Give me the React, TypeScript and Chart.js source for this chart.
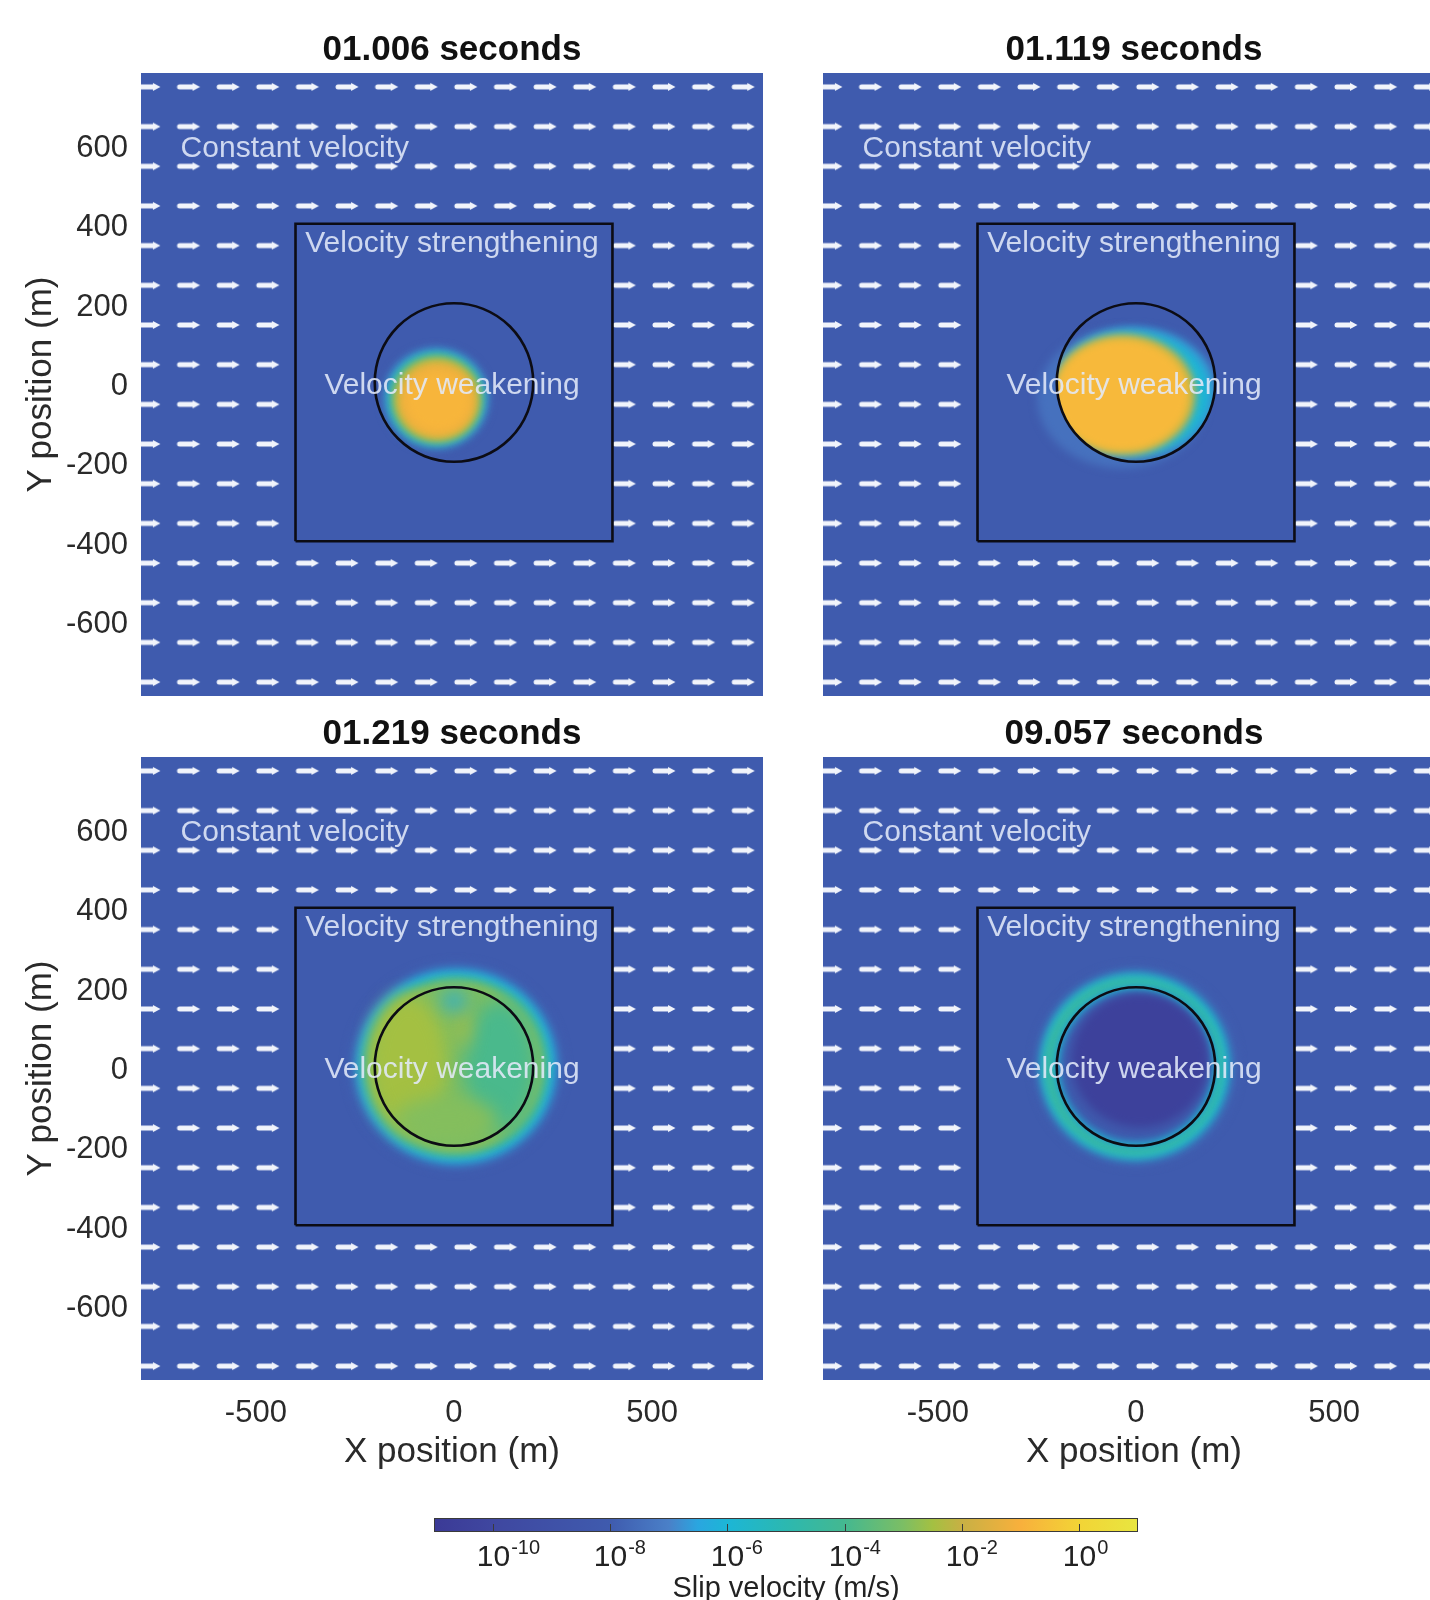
import React, { useEffect, useRef } from 'react';
import { Chart, registerables } from 'chart.js';

Chart.register(...registerables);

// ---------------- data ----------------
const panelTitles = ['01.006 seconds', '01.119 seconds', '01.219 seconds', '09.057 seconds'];
const xTickValues = [-500, 0, 500];
const yTickValues = [600, 400, 200, 0, -200, -400, -600];
const axisMin = -790;
const axisMax = 780;
const xAxisTitle = 'X position (m)';
const yAxisTitle = 'Y position (m)';

// quiver arrows (constant velocity region)
const arrowColumns = [-770, -670, -570, -470, -370, -270, -170, -70, 30, 130, 230, 330, 430, 530, 630, 730];
const arrowRows = [745, 645, 545, 445, 345, 245, 145, 45, -55, -155, -255, -355, -455, -555, -655, -755];

// frictional regions
const strengtheningHalfWidth = 400;
const weakeningRadius = 200;
const boxCorners = [
  { x: -400, y: -400 },
  { x: 400, y: -400 },
  { x: 400, y: 400 },
  { x: -400, y: 400 },
  { x: -400, y: -400 },
];

// region labels
const regionLabels = ['Constant velocity', 'Velocity strengthening', 'Velocity weakening'];
const regionLabelX = [-690, -5, -5];
const regionLabelY = [590, 350, -8];
const regionLabelAlign = ['left', 'center', 'center'];

// log10 slip velocity (m/s)
const backgroundLogV = -8;
const slipPanel1 = [
  { x: -45, y: -40, rx: 134, ry: 128, v: -7.2 },
  { x: -45, y: -40, rx: 125, ry: 120, v: -6.1 },
  { x: -44, y: -41, rx: 116, ry: 112, v: -4.2 },
  { x: -43, y: -42, rx: 109, ry: 105, v: -2.4 },
  { x: -42, y: -44, rx: 101, ry: 97, v: -1.2 },
  { x: -40, y: -48, rx: 80, ry: 75, v: -0.85 },
];
const slipPanel2 = [
  { x: -35, y: -40, rx: 214, ry: 176, v: -7.4, inside: false },
  { x: -5, y: -25, rx: 210, ry: 164, v: -6.8, inside: true },
  { x: -12, y: -27, rx: 200, ry: 158, v: -6.0, inside: true },
  { x: -30, y: -30, rx: 180, ry: 150, v: -2.2, inside: true },
  { x: -36, y: -32, rx: 172, ry: 144, v: -0.75, inside: true },
];
const slipPanel3 = [
  { x: 5, y: 0, rx: 272, ry: 262, v: -7.8 },
  { x: 5, y: 0, rx: 254, ry: 246, v: -6.3 },
  { x: 5, y: 0, rx: 236, ry: 230, v: -4.6 },
  { x: 5, y: 0, rx: 221, ry: 217, v: -2.9 },
  { x: 3, y: 0, rx: 206, ry: 204, v: -3.0 },
  { x: -115, y: 10, rx: 100, ry: 170, v: -2.5, soft: true },
  { x: 115, y: 0, rx: 90, ry: 165, v: -3.9, soft: true },
  { x: -20, y: -135, rx: 130, ry: 60, v: -2.9, soft: true },
  { x: 25, y: 95, rx: 14, ry: 50, v: -2.4, soft: true },
  { x: 0, y: 165, rx: 28, ry: 22, v: -6.3, soft: true },
];
const slipPanel4 = [
  { x: 0, y: 0, rx: 258, ry: 252, v: -7.8 },
  { x: -3, y: 0, rx: 240, ry: 236, v: -6.0 },
  { x: -5, y: 0, rx: 227, ry: 224, v: -4.3 },
  { x: 0, y: 0, rx: 208, ry: 206, v: -6.0 },
  { x: 0, y: 0, rx: 194, ry: 192, v: -8.3 },
  { x: 10, y: 15, rx: 172, ry: 168, v: -10.5 },
];
const slipPanels = [slipPanel1, slipPanel2, slipPanel3, slipPanel4];

// colour bar
const colorbarMin = -11;
const colorbarMax = 1;
const colorbarTicks = [-10, -8, -6, -4, -2, 0];
const colorbarTitle = 'Slip velocity (m/s)';
const cmapLevels = [-11, -10, -8, -7, -6.5, -6, -5, -4, -3, -2.5, -2, -1, 0, 1];
const cmapColors = ['#3b3a96', '#3f47a0', '#3f5bae', '#4a80c8', '#2aa6e0', '#1cb6d6', '#2cb8b0', '#44b890', '#7cbe64', '#a4c042', '#c8b044', '#f8b03c', '#f2d436', '#e8e640'];

// ---------------- helpers ----------------
const FONT = '"Liberation Sans", Arial, Helvetica, sans-serif';

function hexToRgb(h: string) {
  const n = parseInt(h.slice(1), 16);
  return [(n >> 16) & 255, (n >> 8) & 255, n & 255];
}

function slipColor(v: number) {
  const lv = Math.max(cmapLevels[0], Math.min(cmapLevels[cmapLevels.length - 1], v));
  let i = 0;
  while (i < cmapLevels.length - 2 && lv > cmapLevels[i + 1]) i++;
  const t = (lv - cmapLevels[i]) / (cmapLevels[i + 1] - cmapLevels[i]);
  const a = hexToRgb(cmapColors[i]);
  const b = hexToRgb(cmapColors[i + 1]);
  const c = a.map((av, k) => Math.round(av + (b[k] - av) * t));
  return `rgb(${c[0]},${c[1]},${c[2]})`;
}

function makeArrow() {
  const c = document.createElement('canvas');
  c.width = 28;
  c.height = 12;
  const g = c.getContext('2d')!;
  g.strokeStyle = '#f1f4fb';
  g.fillStyle = '#f1f4fb';
  g.lineWidth = 5;
  g.lineCap = 'round';
  g.beginPath();
  g.moveTo(5, 6);
  g.lineTo(19, 6);
  g.stroke();
  g.beginPath();
  g.moveTo(18, 2);
  g.lineTo(25.5, 6);
  g.lineTo(18, 10);
  g.closePath();
  g.fill();
  return c;
}

const arrowPoints: { x: number; y: number }[] = [];
arrowRows.forEach((yv) =>
  arrowColumns.forEach((xv) => {
    if (Math.abs(xv) > strengtheningHalfWidth || Math.abs(yv) > strengtheningHalfWidth) arrowPoints.push({ x: xv, y: yv });
  })
);

// layout (pixels)
const PANEL_W = 773;
const PANEL_H = 791;
const panelLeft = [0, 682, 0, 682];
const panelTop = [0, 0, 684, 684];

function panelPlugin(idx: number) {
  const isLeft = idx % 2 === 0;
  const isBottom = idx >= 2;
  return {
    id: 'panelArt' + idx,
    beforeDatasetsDraw(chart: any) {
      const { ctx, chartArea: a } = chart;
      const xs = chart.scales.x;
      const ys = chart.scales.y;
      ctx.save();
      ctx.beginPath();
      ctx.rect(a.left, a.top, a.right - a.left, a.bottom - a.top);
      ctx.clip();
      ctx.fillStyle = slipColor(backgroundLogV);
      ctx.fillRect(a.left, a.top, a.right - a.left, a.bottom - a.top);
      const cx0 = xs.getPixelForValue(0);
      const cy0 = ys.getPixelForValue(0);
      const rpx = xs.getPixelForValue(weakeningRadius) - cx0;
      for (const L of slipPanels[idx] as any[]) {
        ctx.save();
        ctx.filter = L.soft ? 'blur(9px)' : 'blur(4px)';
        if (L.inside) {
          ctx.beginPath();
          ctx.arc(cx0, cy0, rpx, 0, Math.PI * 2);
          ctx.clip();
        }
        const cx = xs.getPixelForValue(L.x);
        const cy = ys.getPixelForValue(L.y);
        const rx = Math.abs(xs.getPixelForValue(L.x + L.rx) - cx);
        const ry = Math.abs(ys.getPixelForValue(L.y + L.ry) - cy);
        ctx.fillStyle = slipColor(L.v);
        ctx.beginPath();
        ctx.ellipse(cx, cy, rx, ry, 0, 0, Math.PI * 2);
        ctx.fill();
        ctx.restore();
      }
      ctx.restore();
    },
    afterDatasetsDraw(chart: any) {
      const { ctx, chartArea: a } = chart;
      const xs = chart.scales.x;
      const ys = chart.scales.y;
      const cx0 = xs.getPixelForValue(0);
      const cy0 = ys.getPixelForValue(0);
      const rpx = xs.getPixelForValue(weakeningRadius) - cx0;
      ctx.save();
      ctx.beginPath();
      ctx.rect(a.left, a.top, a.right - a.left, a.bottom - a.top);
      ctx.clip();
      ctx.strokeStyle = '#0c0c14';
      ctx.lineWidth = 2.6;
      ctx.beginPath();
      ctx.arc(cx0, cy0, rpx, 0, Math.PI * 2);
      ctx.stroke();
      ctx.font = `30px ${FONT}`;
      ctx.fillStyle = 'rgba(226,233,249,0.88)';
      ctx.textBaseline = 'middle';
      regionLabels.forEach((t, k) => {
        ctx.textAlign = regionLabelAlign[k] as CanvasTextAlign;
        ctx.fillText(t, xs.getPixelForValue(regionLabelX[k]), ys.getPixelForValue(regionLabelY[k]));
      });
      ctx.restore();
    },
    afterDraw(chart: any) {
      const { ctx, chartArea: a } = chart;
      ctx.save();
      ctx.fillStyle = '#111';
      ctx.textAlign = 'center';
      ctx.textBaseline = 'middle';
      ctx.font = `bold 35px ${FONT}`;
      ctx.fillText(panelTitles[idx], (a.left + a.right) / 2, a.top - 23);
      ctx.fillStyle = '#2a2a2a';
      ctx.font = `35px ${FONT}`;
      if (isBottom) ctx.fillText(xAxisTitle, (a.left + a.right) / 2, a.bottom + 72);
      if (isLeft) {
        ctx.save();
        ctx.translate(41, (a.top + a.bottom) / 2);
        ctx.rotate(-Math.PI / 2);
        ctx.fillText(yAxisTitle, 0, 0);
        ctx.restore();
      }
      ctx.restore();
    },
  };
}

function panelConfig(idx: number, arrowImg: HTMLCanvasElement): any {
  const isLeft = idx % 2 === 0;
  const isBottom = idx >= 2;
  return {
    type: 'scatter',
    data: {
      datasets: [
        {
          data: boxCorners,
          showLine: true,
          borderColor: '#0c0c14',
          borderWidth: 2.6,
          pointRadius: 0,
          fill: false,
          tension: 0,
          clip: 0,
        },
        {
          data: arrowPoints,
          pointStyle: arrowImg,
          pointRadius: 12,
          clip: 0,
        },
      ],
    },
    options: {
      animation: false,
      responsive: false,
      devicePixelRatio: 1,
      events: [],
      layout: { autoPadding: false, padding: { left: 0, top: 73, right: 10, bottom: 0 } },
      plugins: { legend: { display: false }, tooltip: { enabled: false }, title: { display: false } },
      scales: {
        x: {
          type: 'linear',
          min: axisMin,
          max: axisMax,
          afterBuildTicks: (s: any) => {
            s.ticks = xTickValues.map((v) => ({ value: v }));
          },
          afterFit: (s: any) => {
            s.height = 95;
          },
          grid: { display: false, drawTicks: false },
          border: { display: false },
          ticks: {
            display: isBottom,
            autoSkip: false,
            maxRotation: 0,
            padding: 15,
            color: '#2a2a2a',
            font: { family: FONT, size: 31 },
            callback: (v: any) => String(v),
          },
        },
        y: {
          type: 'linear',
          min: axisMin,
          max: axisMax,
          afterBuildTicks: (s: any) => {
            s.ticks = yTickValues.map((v) => ({ value: v }));
          },
          afterFit: (s: any) => {
            s.width = 141;
          },
          grid: { display: false, drawTicks: false },
          border: { display: false },
          ticks: {
            display: isLeft,
            autoSkip: false,
            padding: 13,
            labelOffset: 4,
            color: '#2a2a2a',
            font: { family: FONT, size: 31 },
            callback: (v: any) => String(v),
          },
        },
      },
    },
    plugins: [panelPlugin(idx)],
  };
}

const colorbarPlugin = {
  id: 'colorbarArt',
  afterDraw(chart: any) {
    const { ctx, chartArea: a } = chart;
    const xs = chart.scales.x;
    ctx.save();
    const grad = ctx.createLinearGradient(a.left, 0, a.right, 0);
    cmapLevels.forEach((lv, i) => {
      const p = (xs.getPixelForValue(lv) - a.left) / (a.right - a.left);
      grad.addColorStop(Math.max(0, Math.min(1, p)), cmapColors[i]);
    });
    ctx.fillStyle = grad;
    ctx.fillRect(a.left, a.top, a.right - a.left, a.bottom - a.top);
    ctx.strokeStyle = '#3a3a3a';
    ctx.lineWidth = 1;
    ctx.strokeRect(a.left + 0.5, a.top + 0.5, a.right - a.left - 1, a.bottom - a.top - 1);
    ctx.fillStyle = '#222';
    ctx.textBaseline = 'middle';
    ctx.textAlign = 'left';
    colorbarTicks.forEach((t) => {
      const px = Math.round(xs.getPixelForValue(t)) + 0.5;
      ctx.beginPath();
      ctx.moveTo(px, a.bottom);
      ctx.lineTo(px, a.bottom - 8);
      ctx.stroke();
      ctx.font = `30px ${FONT}`;
      const w = ctx.measureText('10').width;
      ctx.fillText('10', px - w / 2, a.bottom + 26);
      ctx.font = `20px ${FONT}`;
      ctx.fillText(String(t), px + w / 2 + 1, a.bottom + 16);
    });
    ctx.font = `29px ${FONT}`;
    ctx.textAlign = 'center';
    ctx.fillText(colorbarTitle, (a.left + a.right) / 2, a.bottom + 57);
    ctx.restore();
  },
};

function colorbarConfig(): any {
  return {
    type: 'scatter',
    data: { datasets: [] },
    options: {
      animation: false,
      responsive: false,
      devicePixelRatio: 1,
      events: [],
      layout: { autoPadding: false, padding: { left: 34, top: 28, right: 42, bottom: 0 } },
      plugins: { legend: { display: false }, tooltip: { enabled: false } },
      scales: {
        x: {
          type: 'linear',
          min: colorbarMin,
          max: colorbarMax,
          afterBuildTicks: (s: any) => {
            s.ticks = colorbarTicks.map((v) => ({ value: v }));
          },
          afterFit: (s: any) => {
            s.height = 68;
          },
          grid: { display: false, drawTicks: false },
          border: { display: false },
          ticks: { display: false },
        },
        y: { display: false, min: 0, max: 1 },
      },
    },
    plugins: [colorbarPlugin],
  };
}

export default function App() {
  const panelRefs = useRef<(HTMLCanvasElement | null)[]>([]);
  const cbRef = useRef<HTMLCanvasElement | null>(null);

  useEffect(() => {
    const arrowImg = makeArrow();
    const charts: Chart[] = [];
    panelTitles.forEach((_, i) => {
      const c = panelRefs.current[i];
      if (c) charts.push(new Chart(c, panelConfig(i, arrowImg)));
    });
    if (cbRef.current) charts.push(new Chart(cbRef.current, colorbarConfig()));
    return () => charts.forEach((c) => c.destroy());
  }, []);

  return (
    <div
      style={{
        position: 'fixed',
        left: 0,
        top: 0,
        width: 1430,
        height: 1600,
        overflow: 'hidden',
        background: '#ffffff',
      }}
    >
      {panelTitles.map((_, i) => (
        <canvas
          key={i}
          ref={(el) => {
            panelRefs.current[i] = el;
          }}
          width={PANEL_W}
          height={PANEL_H}
          style={{ position: 'absolute', left: panelLeft[i], top: panelTop[i], width: PANEL_W, height: PANEL_H }}
        />
      ))}
      <canvas
        ref={cbRef}
        width={780}
        height={110}
        style={{ position: 'absolute', left: 400, top: 1490, width: 780, height: 110 }}
      />
    </div>
  );
}
